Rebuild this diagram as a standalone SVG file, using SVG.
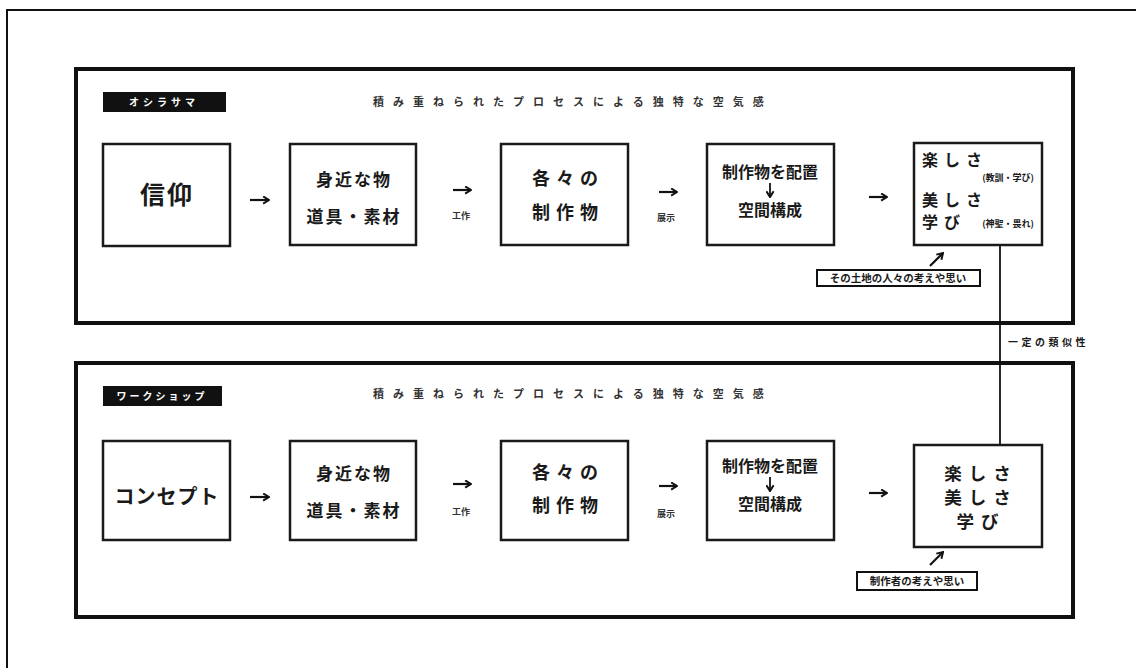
<svg xmlns="http://www.w3.org/2000/svg" width="1136" height="668" viewBox="0 0 1136 668">
<defs>
<marker id="chev" viewBox="0 0 10 10" refX="9" refY="5" markerWidth="9" markerHeight="9" markerUnits="userSpaceOnUse" orient="auto">
<path d="M2.5,1 L9,5 L2.5,9" fill="none" stroke="#111" stroke-width="2.2"/>
</marker>
<style>
text{font-family:"Noto Sans CJK JP","Noto Sans",sans-serif;font-weight:bold;fill:#1a1a1a}
.panel{fill:none;stroke:#111;stroke-width:4}
.box{fill:#fff;stroke:#1a1a1a;stroke-width:2.5}
.tag{fill:#111}
.tagt{fill:#fff;font-size:10px}
.title{font-size:11px;letter-spacing:9px;fill:#333}
.big{text-anchor:middle}
.mid{font-size:17px;text-anchor:middle;letter-spacing:2px}
.mid3{font-size:18px;text-anchor:middle;letter-spacing:6px}
.mid2{font-size:16px;text-anchor:middle}
.sm{font-size:9px;text-anchor:middle;fill:#333}
.note{fill:#fff;stroke:#111;stroke-width:2}
.notet{font-size:10.5px;text-anchor:middle}
.arr{fill:none;stroke:#111;stroke-width:2.2;marker-end:url(#chev)}
.arrs{fill:none;stroke:#111;stroke-width:1.8;marker-end:url(#chev)}
.link{fill:none;stroke:#111;stroke-width:1.8}
.fun1{font-size:16px;letter-spacing:6px}
.fun1s{font-size:9px;text-anchor:end}
.fun2{font-size:17.5px;text-anchor:middle;letter-spacing:7px}
</style>
</defs>
<rect width="1136" height="668" fill="#fff"/>
<rect x="7" y="10" width="1140" height="670" fill="none" stroke="#111" stroke-width="2"/>

<g id="panel-top">
<rect class="panel" x="76" y="69" width="997" height="254"/>
<rect class="tag" x="103" y="92" width="123" height="20"/>
<text class="tagt" x="164" y="106" text-anchor="middle" letter-spacing="4">オシラサマ</text>
<text class="title" x="373" y="106">積み重ねられたプロセスによる独特な空気感</text>
</g>
<g id="panel-bottom">
<rect class="panel" x="76" y="363" width="997" height="254"/>
<rect class="tag" x="103" y="386" width="119" height="20"/>
<text class="tagt" x="162" y="400" text-anchor="middle" letter-spacing="3">ワークショップ</text>
<text class="title" x="373" y="398">積み重ねられたプロセスによる独特な空気感</text>
</g>

<g id="connectors">
<path class="arr" d="M250,200 H269"/>
<path class="arr" d="M453,190 H471"/>
<path class="arr" d="M659,192 H677"/>
<path class="arr" d="M869,197 H887"/>
<path class="arr" d="M250,497 H269"/>
<path class="arr" d="M453,484 H471"/>
<path class="arr" d="M659,486 H677"/>
<path class="arr" d="M869,493 H887"/>
<path class="arr" d="M930,266 L943,253"/>
<path class="arr" d="M930,565 L943,552"/>
<path class="link" d="M1000,245 V445"/>
<text class="sm" x="461" y="219">工作</text>
<text class="sm" x="666" y="221">展示</text>
<text class="sm" x="461" y="515">工作</text>
<text class="sm" x="666" y="517">展示</text>
<text x="1008" y="346" font-size="10px" letter-spacing="3.5" fill="#333">一定の類似性</text>
</g>

<g id="n-shinko">
<rect class="box" x="103" y="144" width="127" height="102"/>
<text class="big" x="167" y="204" style="font-size:25px;letter-spacing:2px">信仰</text>
</g>
<g id="n-mijika-top">
<rect class="box" x="290" y="144" width="126" height="101"/>
<text class="mid" x="354" y="186">身近な物</text>
<text class="mid" x="354" y="223">道具・素材</text>
</g>
<g id="n-seisaku-top">
<rect class="box" x="501" y="144" width="127" height="101"/>
<text class="mid3" x="568" y="185">各々の</text>
<text class="mid3" x="568" y="219">制作物</text>
</g>
<g id="n-haichi-top">
<rect class="box" x="707" y="144" width="127" height="101"/>
<text class="mid2" x="770" y="178">制作物を配置</text>
<path class="arrs" d="M770,183 V197"/>
<text class="mid2" x="770" y="216">空間構成</text>
</g>
<g id="n-tanoshisa-top">
<rect class="box" x="914" y="143" width="128" height="102"/>
<text class="fun1" x="922" y="166">楽しさ</text>
<text class="fun1s" x="1034" y="181">(教訓・学び)</text>
<text class="fun1" x="922" y="206">美しさ</text>
<text class="fun1" x="922" y="228">学び</text>
<text class="fun1s" x="1034" y="227">(神聖・畏れ)</text>
</g>
<g id="note-top">
<rect class="note" x="817" y="270" width="163" height="16"/>
<text class="notet" x="898" y="282">その土地の人々の考えや思い</text>
</g>

<g id="n-concept">
<rect class="box" x="103" y="441" width="127" height="99"/>
<text class="big" x="167" y="504" style="font-size:20px;letter-spacing:1px">コンセプト</text>
</g>
<g id="n-mijika-bottom">
<rect class="box" x="290" y="441" width="126" height="99"/>
<text class="mid" x="354" y="480">身近な物</text>
<text class="mid" x="354" y="517">道具・素材</text>
</g>
<g id="n-seisaku-bottom">
<rect class="box" x="501" y="441" width="127" height="99"/>
<text class="mid3" x="568" y="479">各々の</text>
<text class="mid3" x="568" y="512">制作物</text>
</g>
<g id="n-haichi-bottom">
<rect class="box" x="707" y="441" width="127" height="99"/>
<text class="mid2" x="770" y="472">制作物を配置</text>
<path class="arrs" d="M770,477 V491"/>
<text class="mid2" x="770" y="510">空間構成</text>
</g>
<g id="n-tanoshisa-bottom">
<rect class="box" x="914" y="445" width="128" height="102"/>
<text class="fun2" x="981" y="480">楽しさ</text>
<text class="fun2" x="981" y="504">美しさ</text>
<text class="fun2" x="981" y="528">学び</text>
</g>
<g id="note-bottom">
<rect class="note" x="857" y="572" width="120" height="18"/>
<text class="notet" x="917" y="585">制作者の考えや思い</text>
</g>
</svg>
